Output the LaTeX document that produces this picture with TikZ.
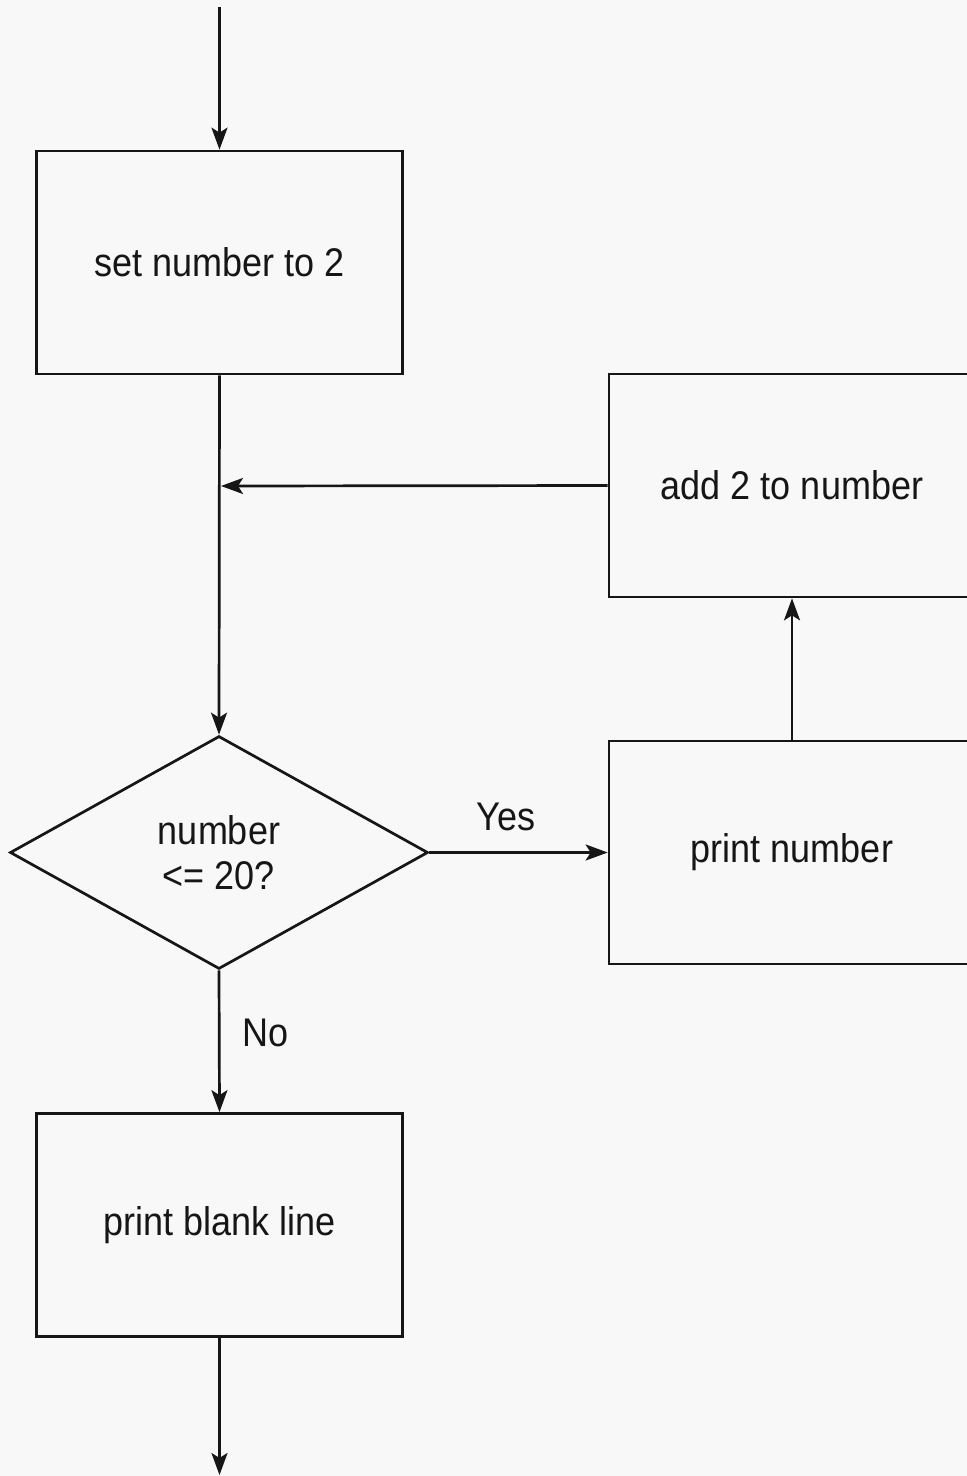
\documentclass[tikz,border=0pt]{standalone}
\usepackage{fontspec}
\setmainfont{Liberation Sans}[FakeStretch=0.9]
\usetikzlibrary{shapes.geometric,arrows.meta}
\definecolor{paper}{RGB}{248,248,248}
\definecolor{ink}{RGB}{22,22,22}
\begin{document}
\begin{tikzpicture}[x=1pt,y=-1pt,
  every node/.style={font=\fontsize{40}{47}\selectfont, text=ink},
  stepbox/.style={draw=ink, line width=2.7pt, rectangle, fill=paper,
    minimum width=366pt, minimum height=223pt, inner sep=0pt},
  decision/.style={draw=ink, line width=2.7pt, diamond, fill=paper,
    minimum width=418pt, minimum height=233pt, inner sep=0pt, align=center},
  flow/.style={draw=ink, line width=2.7pt,
    -{Stealth[length=22pt,width=16pt,inset=5pt]}},
  edgelabel/.style={inner sep=0pt}]
  % page
  \fill[paper] (0,0) rectangle (967,1476);
  \clip (0,0) rectangle (967,1476);
  \useasboundingbox (0,0) rectangle (967,1476);

  % blocks
  \node[stepbox] (init) at (219.5,262.5) {set number to 2};
  \node[decision] (test) at (219,852.5) {number\\[-2pt]<= 20?};
  \node[stepbox] (show) at (792,852.5) {print number};
  \node[stepbox] (incr) at (792,485.5) {add 2 to number};
  \node[stepbox] (blank) at (219.5,1225) {print blank line};

  % loose ends and the merge point
  \coordinate (entry) at (219.5,7);
  \coordinate (exit) at (219.5,1475);
  \coordinate (merge) at (219.5,486);

  % connectors
  \draw[flow] (entry) -- (init.north);
  \draw[flow] (init.south) -- (test.north);
  \draw[flow, shorten >=1.5pt] (incr.west) -- (merge);
  \draw[flow] (test.east) -- node[edgelabel, pos=0.43, above=20pt] {Yes} (show.west);
  \draw[flow] (show.north) -- (incr.south);
  \draw[flow] (test.south) -- node[edgelabel, pos=0.44, right=22pt] {No} (blank.north);
  \draw[flow] (blank.south) -- (exit);
\end{tikzpicture}
\end{document}
